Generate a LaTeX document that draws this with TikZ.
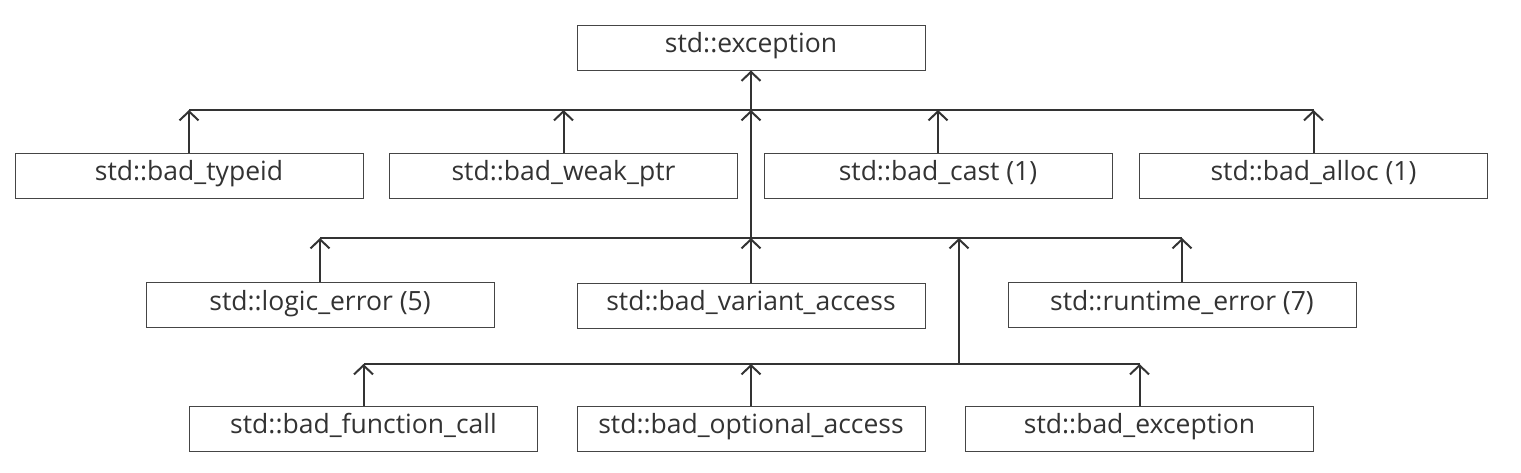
\documentclass[tikz,border=0pt]{standalone}
\usepackage{fontspec}
\setmainfont{Open Sans}
\usetikzlibrary{arrows.meta}
\definecolor{boxline}{HTML}{454545}
\definecolor{conn}{HTML}{333333}
\definecolor{txt}{HTML}{333333}
\begin{document}
\begin{tikzpicture}[x=1pt,y=-1pt,
  cls/.style={draw=boxline,line width=1pt,fill=white,minimum width=348pt,minimum height=45pt,inner sep=0pt,text height=17pt,text depth=7pt,text=txt,font=\fontsize{26.5}{30}\selectfont},
  cline/.style={draw=conn,line width=2pt},
  arr/.style={cline,-{Straight Barb[length=9pt,width=19pt,line width=2pt]}}]
\useasboundingbox[fill=white] (0,0) rectangle (1521,472);
\node[cls] (exc) at (751,47.5) {std::exception};
\node[cls] (typeid) at (189,175.5) {std::bad\_typeid};
\node[cls] (weak) at (563.5,175.5) {std::bad\_weak\_ptr};
\node[cls] (cast) at (938,175.5) {std::bad\_cast (1)};
\node[cls] (alloc) at (1313.5,175.5) {std::bad\_alloc (1)};
\node[cls] (logic) at (320,305) {std::logic\_error (5)};
\node[cls] (variant) at (751,305.5) {std::bad\_variant\_access};
\node[cls] (runtime) at (1182,305) {std::runtime\_error (7)};
\node[cls] (func) at (363.5,428.5) {std::bad\_function\_call};
\node[cls] (optional) at (751,428.5) {std::bad\_optional\_access};
\node[cls] (bexc) at (1139.5,428.5) {std::bad\_exception};
\coordinate (j1) at (751,110);
\coordinate (j2) at (751,238);
\coordinate (j3) at (959,364);
\coordinate (j3t) at (959,238);
% row 1 bus
\draw[cline] (typeid.north |- j1) -- (alloc.north |- j1);
\draw[arr] (j1) -- (exc.south);
\foreach \n in {typeid,weak,cast,alloc} \draw[arr] (\n.north) -- (\n.north |- j1);
% row 2 bus
\draw[cline] (logic.north |- j2) -- (runtime.north |- j2);
\draw[arr] (j2) -- (j1);
\foreach \n in {logic,variant,runtime} \draw[arr] (\n.north) -- (\n.north |- j2);
% row 3 bus
\draw[cline] (func.north |- j3) -- (bexc.north |- j3);
\draw[arr] (j3) -- (j3t);
\foreach \n in {func,optional,bexc} \draw[arr] (\n.north) -- (\n.north |- j3);
\end{tikzpicture}
\end{document}
